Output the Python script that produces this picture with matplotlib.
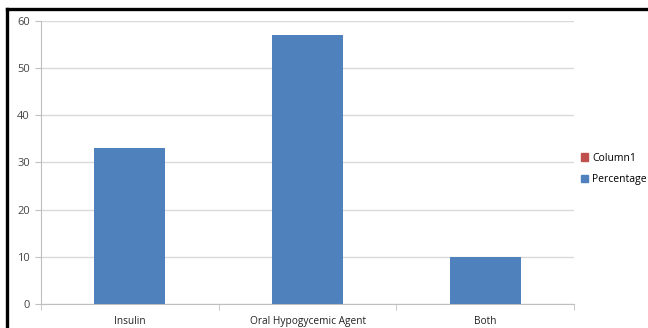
import numpy as np
import matplotlib
matplotlib.use("Agg")
import matplotlib.pyplot as plt
from matplotlib.patches import Patch
from matplotlib.lines import Line2D

categories = ["Insulin", "Oral Hypogycemic Agent", "Both"]
percentage = [33, 57, 10]
column1 = [np.nan, np.nan, np.nan]
y_ticks = [0, 10, 20, 30, 40, 50, 60]

def main():
    plt.rcParams['font.family'] = ['Open Sans', 'DejaVu Sans']
    fig = plt.figure(figsize=(6.48, 3.28), dpi=100)
    ax = fig.add_axes([0.0633, 0.0732, 0.8227, 0.8628])

    x = np.arange(len(categories))
    ax.bar(x, percentage, width=0.4, color='#4F81BD', zorder=3)

    ax.set_xlim(-0.5, len(categories) - 0.5)
    ax.set_ylim(0, 60)
    ax.set_yticks(y_ticks)
    ax.set_xticks(x)
    ax.set_xticklabels(categories)
    ax.set_xticks(np.arange(len(categories) + 1) - 0.5, minor=True)
    ax.tick_params(axis='x', which='major', length=0, labelsize=7.3, colors='#222222', pad=9)
    ax.tick_params(axis='x', which='minor', length=4, color='#BFBFBF', direction='out')
    ax.tick_params(axis='y', length=4, labelsize=8, colors='#444444', pad=4)
    ax.tick_params(axis='y', color='#BFBFBF')

    ax.grid(axis='y', color='#D9D9D9', linewidth=1, zorder=0)
    for s in ['top', 'right']:
        ax.spines[s].set_visible(False)
    ax.spines['left'].set_color('#BFBFBF')
    ax.spines['bottom'].set_color('#BFBFBF')

    handles = [Patch(color='#C0504D', label='Column1'),
               Patch(color='#4F81BD', label='Percentage')]
    fig.legend(handles=handles, loc='center left', bbox_to_anchor=(0.882, 0.485),
               frameon=False, fontsize=7.5, handlelength=0.7, handleheight=0.7,
               handletextpad=0.4, labelspacing=1.0)

    fig.add_artist(Line2D([0.0115, 1.0], [0.972, 0.972], color='black', linewidth=2.4,
                          transform=fig.transFigure))
    fig.add_artist(Line2D([0.0115, 0.0115], [0.0, 0.972], color='black', linewidth=2.4,
                          transform=fig.transFigure))

    fig.savefig("out.png", dpi=100)

if __name__ == "__main__":
    main()
